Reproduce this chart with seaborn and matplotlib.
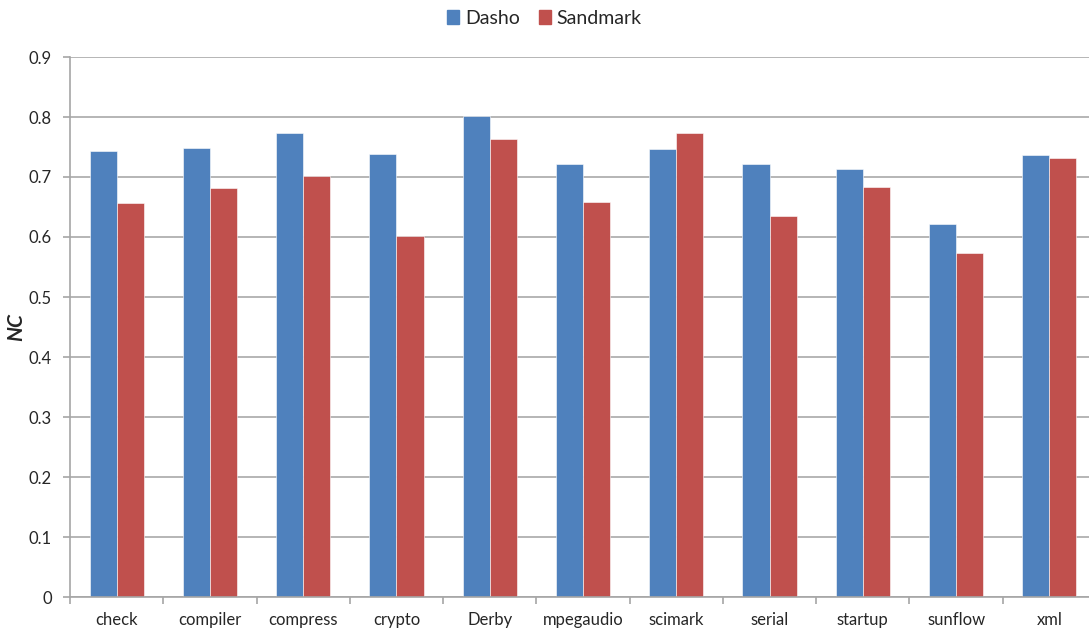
import matplotlib
matplotlib.use('Agg')
import matplotlib.pyplot as plt
import seaborn as sns
import pandas as pd
import numpy as np

# Adatok
kategoriak = ['check', 'compiler', 'compress', 'crypto', 'Derby', 'mpegaudio',
              'scimark', 'serial', 'startup', 'sunflow', 'xml']
dasho = [0.743, 0.749, 0.773, 0.738, 0.801, 0.722, 0.747, 0.721, 0.713, 0.621, 0.736]
sandmark = [0.656, 0.682, 0.701, 0.602, 0.763, 0.659, 0.773, 0.635, 0.684, 0.573, 0.731]
sorozatok = ['Dasho', 'Sandmark']
szinek = ['#4F81BD', '#C0504D']

df = pd.DataFrame({
    'kat': kategoriak * 2,
    'NC': dasho + sandmark,
    'sor': ['Dasho'] * len(kategoriak) + ['Sandmark'] * len(kategoriak),
})

sns.set_style('white')
plt.rcParams['font.family'] = ['Lato', 'DejaVu Sans']

fig = plt.figure(figsize=(10.89, 6.29), dpi=100)
W, H = 1089, 629
ax = fig.add_axes([70 / W, (H - 597) / H, 1026 / W, 540 / H])

sns.barplot(data=df, x='kat', y='NC', hue='sor', hue_order=sorozatok,
            palette=szinek, width=0.58, gap=0, saturation=1,
            edgecolor='white', linewidth=0.4, ax=ax, legend=True)

ax.set_ylim(0, 0.9)
ax.set_xlim(-0.5, len(kategoriak) - 0.5)
ax.set_yticks(np.arange(0, 0.91, 0.1))
ax.set_yticklabels(['0'] + [f'{v:.1f}' for v in np.arange(0.1, 0.91, 0.1)])
ax.yaxis.grid(True, color='#B0B0B0', linewidth=1.3)
ax.set_axisbelow(True)

for s in ['top', 'right']:
    ax.spines[s].set_visible(False)
for s in ['left', 'bottom']:
    ax.spines[s].set_color('#A6A6A6')
    ax.spines[s].set_linewidth(1.2)

ax.tick_params(axis='y', left=True, direction='out', length=5, color='#A6A6A6',
               width=1.2, labelsize=12, pad=8)
ax.set_xticks(range(len(kategoriak)))
ax.set_xticklabels(kategoriak)
ax.set_xticks(np.arange(-0.5, len(kategoriak), 1), minor=True)
ax.tick_params(axis='x', which='major', bottom=True, length=0, labelsize=12, pad=11)
ax.tick_params(axis='x', which='minor', bottom=True, direction='out', length=5,
               color='#A6A6A6', width=1.2)

ax.set_xlabel('')
ax.set_ylabel('NC', fontsize=15, fontweight='bold', fontstyle='italic')
ax.yaxis.set_label_coords(-44 / 1026, 0.5)

ax.legend_.remove()
handles = [plt.Rectangle((0, 0), 1, 1, color=c) for c in szinek]
fig.legend(handles, sorozatok, loc='center', bbox_to_anchor=(0.5, 1 - 18 / H), ncol=2,
           frameon=False, fontsize=14, handlelength=0.6, handleheight=0.7,
           handletextpad=0.3, columnspacing=1.0)

fig.savefig('out.png', dpi=100)
